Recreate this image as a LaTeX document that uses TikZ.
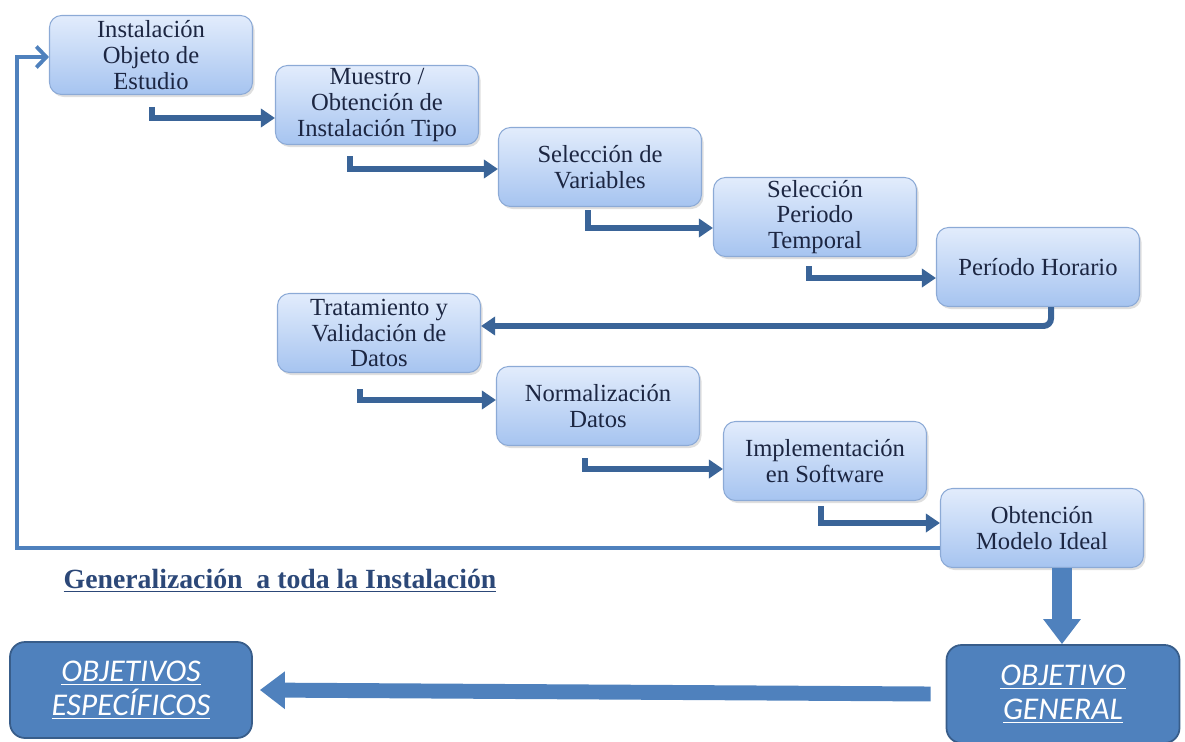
\documentclass[tikz,border=0pt]{standalone}
\usepackage{fontspec}
\setmainfont{Liberation Serif}
\newfontfamily\timesf{Liberation Serif}
\newfontfamily\calib{Carlito}
\usepackage{xcolor}
\usepackage{tikz}
\usetikzlibrary{arrows.meta,positioning,shadows,calc}

\definecolor{boxtop}{RGB}{226,236,252}
\definecolor{boxbot}{RGB}{166,196,240}
\definecolor{boxline}{RGB}{140,170,214}
\definecolor{boxtext}{RGB}{28,38,66}
\definecolor{connblue}{RGB}{58,100,152}
\definecolor{objblue}{RGB}{79,129,189}
\definecolor{objline}{RGB}{56,93,138}
\definecolor{genblue}{RGB}{44,72,120}

\begin{document}
\begin{tikzpicture}[
    stepbox/.style={draw=boxline, top color=boxtop, bottom color=boxbot, rounded corners=0.24cm, line width=0.6pt, minimum width=4.06cm, minimum height=1.58cm, align=center, inner sep=1pt, text=boxtext, font=\timesf\fontsize{14}{14.6}\selectfont, drop shadow={opacity=0.25, shadow xshift=0.04cm, shadow yshift=-0.05cm}},
    objbox/.style={draw=objline, fill=objblue, rounded corners=0.3cm, line width=1pt, align=center, text=white, font=\calib\itshape\fontsize{18}{19.5}\selectfont},
    conn/.style={-{Triangle[length=0.28cm,width=0.36cm]}, line width=3.4pt, draw=connblue},
    back/.style={-{Straight Barb[length=0.2cm,width=0.42cm]}, line width=2.2pt, draw=objblue},
    bigarrow/.style={-{Triangle[length=0.5cm,width=0.72cm]}, line width=8.5pt, draw=objblue}
]
    \useasboundingbox (0,0) rectangle (23.7,-14.84);

    % Upper chain
    \node[stepbox] (inst) at (3.02,-1.10) {Instalación\\Objeto de\\Estudio};
    \node[stepbox] (muestreo) at (7.54,-2.10) {Muestro /\\Obtención de\\Instalación Tipo};
    \node[stepbox] (variables) at (12.00,-3.34) {Selección de\\Variables};
    \node[stepbox] (temporal) at (16.30,-4.34) {Selección\\Periodo\\Temporal};
    \node[stepbox] (horario) at (20.76,-5.34) {Período Horario};

    % Lower chain
    \node[stepbox] (tratamiento) at (7.58,-6.66) {Tratamiento y\\Validación de\\Datos};
    \node[stepbox] (normal) at (11.96,-8.12) {Normalización\\Datos};
    \node[stepbox] (software) at (16.50,-9.22) {Implementación\\en Software};
    \node[stepbox] (modelo) at (20.84,-10.56) {Obtención\\Modelo Ideal};

    % Objectives
    \node[objbox, minimum width=4.66cm, minimum height=1.96cm] (general) at (21.26,-13.88) {\underline{OBJETIVO}\\\underline{GENERAL}};
    \node[objbox, minimum width=4.84cm, minimum height=1.92cm] (especificos) at (2.62,-13.80) {\underline{OBJETIVOS}\\\underline{ESPECÍFICOS}};

    \node[text=genblue, font=\timesf\bfseries\fontsize{15.8}{18}\selectfont] (gen) at (5.6,-11.62) {\underline{Generalización\ \ a toda la Instalación}};

    % Start points of the elbow connectors
    \coordinate (s1) at (3.04,-2.14);
    \coordinate (s2) at (7.00,-3.12);
    \coordinate (s3) at (11.76,-4.20);
    \coordinate (s4) at (16.18,-5.32);
    \coordinate (s5) at (7.20,-7.78);
    \coordinate (s6) at (11.70,-9.16);
    \coordinate (s7) at (16.42,-10.12);
    \coordinate (corner) at (0.34,-1.14);

    % Connections
    \draw[conn] (s1) |- ([yshift=-0.26cm]muestreo.west);
    \draw[conn] (s2) |- ([yshift=-0.04cm]variables.west);
    \draw[conn] (s3) |- ([yshift=-0.22cm]temporal.west);
    \draw[conn] (s4) |- ([yshift=-0.22cm]horario.west);
    \draw[conn, rounded corners=0.15cm] ([xshift=0.26cm]horario.south) |- ([yshift=0.14cm]tratamiento.east);
    \draw[conn] (s5) |- ([yshift=0.12cm]normal.west);
    \draw[conn] (s6) |- ([yshift=-0.16cm]software.west);
    \draw[conn] (s7) |- ([yshift=0.1cm]modelo.west);
    \draw[back] ([yshift=-0.4cm]modelo.west) -| (corner) -- (corner -| inst.west);

    \draw[bigarrow, line width=11pt] ([xshift=0.4cm]modelo.south) -- ([xshift=0.4cm]modelo.south |- general.north);
    \draw[bigarrow] ([xshift=-0.3cm]general.west) -- ([xshift=0.14cm]especificos.east);

\end{tikzpicture}
\end{document}
